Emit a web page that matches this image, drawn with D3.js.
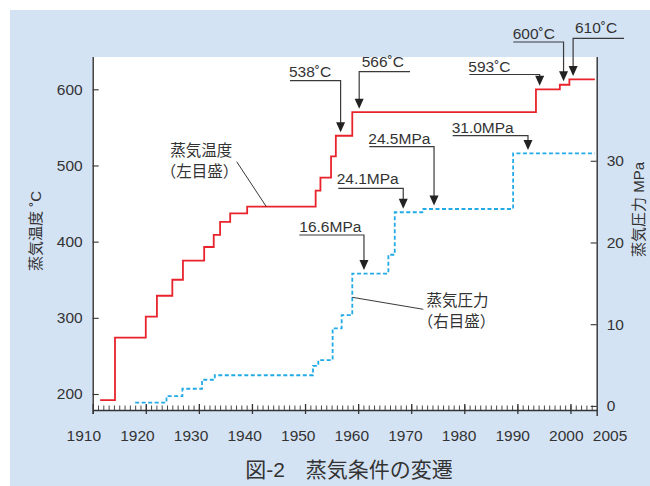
<!DOCTYPE html>
<html><head><meta charset="utf-8">
<script src="https://cdn.jsdelivr.net/npm/d3@7"></script>
<style>html,body{margin:0;padding:0;background:#fff;} svg{display:block;}</style>
</head><body>
<svg id="chart" width="650" height="486"></svg>
<script>
// ---- data ----
const tempYears  = [1911.4, 1914.2, 1920, 1922.1, 1925, 1927, 1931, 1932.8, 1934, 1935.9, 1939.1, 1952, 1952.9, 1954.9, 1955.8, 1958.9, 1993.5, 1998, 1999.8, 2004.6];
const tempValues = [192, 274, 301.5, 329, 350, 375, 393, 409, 426, 437, 446, 467, 484, 512, 539, 570, 600, 606, 613, 613];
const presYears  = [1918, 1923.9, 1926.9, 1930.6, 1933, 1951.5, 1952.5, 1955.2, 1956.9, 1958.9, 1965.7, 1966.9, 1972.3, 1989.2, 2004.6];
const presValues = [0.4, 1.2, 2.1, 3.2, 3.75, 4.9, 5.6, 9.5, 11.1, 16.2, 18.5, 23.7, 24.1, 30.9, 30.9];
const xTickYears = [1910, 1920, 1930, 1940, 1950, 1960, 1970, 1980, 1990, 2000, 2005];
const tempTicks = [200, 300, 400, 500, 600];
const presTicks = [0, 10, 20, 30];
const tempNotes = ["538˚C", "566˚C", "593˚C", "600˚C", "610˚C"];
const tempNoteYears = [1956.7, 1960.2, 1994.2, 1998.7, 2000.5];
const tempNoteValues = [539, 570, 600, 606, 613];
const presNotes = ["16.6MPa", "24.1MPa", "24.5MPa", "31.0MPa"];
const presNoteYears = [1961.1, 1968.5, 1974.3, 1992];
const presNoteValues = [16.2, 23.7, 24.1, 30.9];
const tempSeriesLabel = ["蒸気温度", "（左目盛）"];
const presSeriesLabel = ["蒸気圧力", "（右目盛）"];
const leftAxisTitle = "蒸気温度 ˚C";
const rightAxisTitle = "蒸気圧力 MPa";
const chartTitle = "図-2　蒸気条件の変遷";

// ---- layout ----
const W = 650, H = 486;
const L = 92.7, R = 596.7, T = 57, B = 410;
const ink = "#333";
const numFont = "'Liberation Sans', Arial, Helvetica, sans-serif";
const jpFont = "'Liberation Sans', 'Noto Sans CJK JP', sans-serif";

const x = d3.scaleLinear().domain([1910, 2005]).range([L, 597]);
const yT = d3.scaleLinear().domain([179, 642.4]).range([B, T]);
const yP = d3.scaleLinear().domain([-0.5, 42.7]).range([B, T]);
// label positions for x tick text (labels are spread slightly wider than ticks)
const xLab = d3.scaleLinear().domain([1910, 2000]).range([83.3, 565.8]);
const xLabPos = d => d === 2005 ? 609.5 : xLab(d);

const svg = d3.select("#chart");
svg.append("rect").attr("width", W).attr("height", H).attr("fill", "#fff");
svg.append("rect").attr("x", 10).attr("y", 10).attr("width", W - 10).attr("height", H - 10).attr("fill", "#d4e3f4");
svg.append("rect").attr("x", L).attr("y", T).attr("width", R - L).attr("height", B - T).attr("fill", "#fff");

// ---- series ----
const stepLine = ys => d3.line().curve(d3.curveStepAfter).x(d => x(d[0])).y(d => ys(d[1]));
svg.append("path").datum(d3.zip(presYears, presValues))
  .attr("d", stepLine(yP)).attr("fill", "none")
  .attr("stroke", "#22aae6").attr("stroke-width", 1.8).attr("stroke-dasharray", "4,2.5");
svg.append("path").datum(d3.zip(tempYears, tempValues))
  .attr("d", stepLine(yT)).attr("fill", "none")
  .attr("stroke", "#e8232c").attr("stroke-width", 1.8);

// ---- axes ----
function styleAxis(g) {
  g.selectAll("path.domain").attr("stroke", ink).attr("stroke-width", 1.4);
  g.selectAll(".tick line").attr("stroke", ink).attr("stroke-width", 1.1);
  g.selectAll(".tick text").attr("fill", ink).style("font-family", numFont).style("font-size", "15.5px");
}
const gMinor = svg.append("g").attr("transform", `translate(0,${B})`)
  .call(d3.axisBottom(x).tickValues(d3.range(1911, 2005)).tickSizeInner(-4.5).tickSizeOuter(0).tickFormat(""));
styleAxis(gMinor);
gMinor.selectAll(".tick line").attr("stroke-width", 0.9);

const gMajor = svg.append("g").attr("transform", `translate(0,${B})`)
  .call(d3.axisBottom(x).tickValues(d3.range(1910, 2001, 10)).tickSizeInner(4).tickSizeOuter(0).tickFormat(""));
gMajor.select("path.domain").remove();
styleAxis(gMajor);
gMajor.selectAll(".tick line").attr("y1", -6).attr("stroke-width", 1.3);

const gXLab = svg.append("g").attr("transform", `translate(0,${B})`)
  .call(d3.axisBottom(x).tickValues(xTickYears).tickSize(0).tickPadding(20).tickFormat(d3.format("d")));
gXLab.select("path.domain").remove();
styleAxis(gXLab);
gXLab.selectAll(".tick text").attr("dx", d => xLabPos(d) - x(d));

const gLeft = svg.append("g").attr("transform", `translate(${L},0)`)
  .call(d3.axisLeft(yT).tickValues(tempTicks).tickSizeInner(-6).tickSizeOuter(0).tickPadding(10));
styleAxis(gLeft);
gLeft.select("path.domain").attr("d", `M0.5,${B + 4}V${T}`);

const gRight = svg.append("g").attr("transform", `translate(${R},0)`)
  .call(d3.axisRight(yP).tickValues(presTicks).tickSizeInner(-6).tickSizeOuter(0).tickPadding(10));
styleAxis(gRight);
gRight.select("path.domain").attr("d", `M0.5,${B + 6}V${T}`);

// axis titles
svg.append("text").attr("transform", "translate(35,231) rotate(-90)")
  .attr("text-anchor", "middle").attr("dominant-baseline", "central")
  .style("font-family", jpFont).style("font-size", "15px").attr("fill", ink).text(leftAxisTitle);
svg.append("text").attr("transform", "translate(638.5,209.5) rotate(-90)")
  .attr("text-anchor", "middle").attr("dominant-baseline", "central")
  .style("font-family", jpFont).style("font-size", "15px").attr("fill", ink).text(rightAxisTitle);

// title
svg.append("text").attr("x", 349).attr("y", 477).attr("text-anchor", "middle")
  .style("font-family", jpFont).style("font-size", "21px").attr("fill", ink).text(chartTitle);

// ---- annotations ----
// layout per note: [text x, text baseline, underline y, underline far end x]
const tempNoteLayout = [[289, 77, 80.7, 290], [361.7, 67, 71.7, 410], [468.3, 72.3, 74.5, 469.3], [512.7, 39.3, 42, 513.3], [575, 33.3, 38.3, 624]];
const presNoteLayout = [[299.3, 231.7, 235, 299.3], [336.7, 184, 188.3, 338.3], [368.3, 144, 146.7, 369.3], [451.7, 132.7, 135.7, 452.7]];
function drawNote(label, year, tipY, lay) {
  const [tx, ty, ly, lx] = lay;
  const ax = x(year);
  const g = svg.append("g");
  g.append("text").attr("x", tx).attr("y", ty).style("font-family", numFont)
    .style("font-size", "15.5px").attr("fill", ink).text(label);
  g.append("path").attr("d", `M${lx},${ly}H${ax}V${tipY - 9}`)
    .attr("fill", "none").attr("stroke", "#3a3a3a").attr("stroke-width", 1.2);
  g.append("path").attr("d", `M${ax},${tipY}L${ax - 4.5},${tipY - 10}L${ax + 4.5},${tipY - 10}Z`).attr("fill", "#222");
}
tempNotes.forEach((t, i) => drawNote(t, tempNoteYears[i], yT(tempNoteValues[i]) - 3.5, tempNoteLayout[i]));
presNotes.forEach((t, i) => drawNote(t, presNoteYears[i], yP(presNoteValues[i]) - 3.5, presNoteLayout[i]));

// series labels with leader lines
function seriesLabel(lines, cx, cy, from, to) {
  lines.forEach((s, i) => svg.append("text").attr("x", cx[i]).attr("y", cy + i * 21.7)
    .attr("text-anchor", "middle").attr("dominant-baseline", "central")
    .style("font-family", jpFont).style("font-size", "15.5px").attr("fill", ink).text(s));
  svg.append("line").attr("x1", from[0]).attr("y1", from[1]).attr("x2", to[0]).attr("y2", to[1])
    .attr("stroke", "#222").attr("stroke-width", 0.9);
}
seriesLabel(tempSeriesLabel, [201.3, 199.5], 150, [236.7, 161.7], [x(1942.7), yT(446)]);
seriesLabel(presSeriesLabel, [457.5, 456.5], 300, [423.3, 309.3], [x(1958.9), 297.3]);
</script>
</body></html>
